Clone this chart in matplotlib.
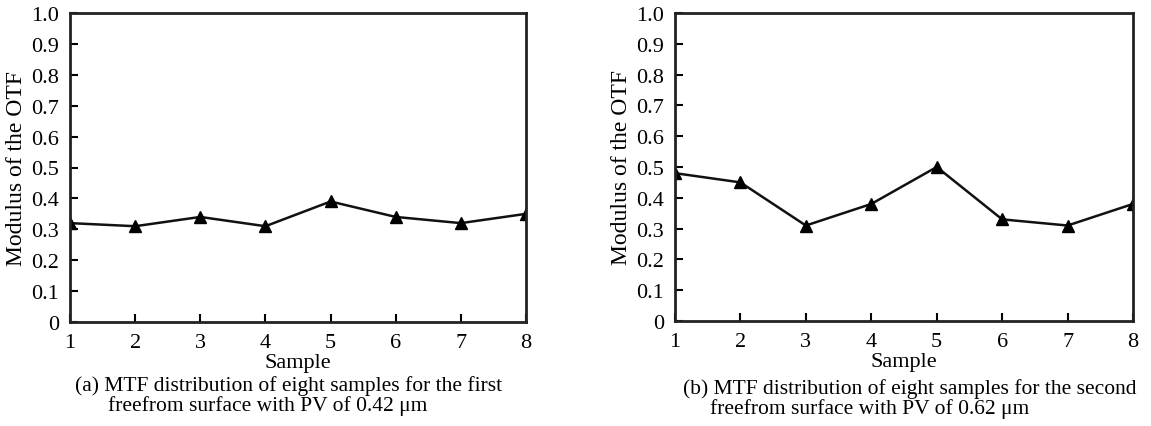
import matplotlib
matplotlib.use("Agg")
import matplotlib.pyplot as plt

samples = [1, 2, 3, 4, 5, 6, 7, 8]
mtf_a = [0.32, 0.31, 0.34, 0.31, 0.39, 0.34, 0.32, 0.35]
mtf_b = [0.48, 0.45, 0.31, 0.38, 0.50, 0.33, 0.31, 0.38]
yticks = [0, 0.1, 0.2, 0.3, 0.4, 0.5, 0.6, 0.7, 0.8, 0.9, 1.0]
ytick_labels = ["0", "0.1", "0.2", "0.3", "0.4", "0.5", "0.6", "0.7", "0.8", "0.9", "1.0"]
caption_a = ["(a) MTF distribution of eight samples for the first",
             "freefrom surface with PV of 0.42 \u03bcm"]
caption_b = ["(b) MTF distribution of eight samples for the second",
             "freefrom surface with PV of 0.62 \u03bcm"]

plt.rcParams['font.family'] = ['Liberation Serif', 'DejaVu Serif']

W, H = 1151, 427
fig = plt.figure(figsize=(W / 100, H / 100), dpi=100)

def px_axes(x0, y0, x1, y1):
    return fig.add_axes([x0 / W, 1 - y1 / H, (x1 - x0) / W, (y1 - y0) / H])

ax_a = px_axes(70, 14, 526, 323)
ax_b = px_axes(675, 14, 1133, 322)

for ax, data in ((ax_a, mtf_a), (ax_b, mtf_b)):
    ax.plot(samples, data, color='#111111', lw=1.8, marker='^', ms=8.5,
            markerfacecolor='black', markeredgecolor='black')
    ax.set_xlim(1, 8)
    ax.set_ylim(0, 1.0)
    ax.set_xticks(samples)
    ax.set_xticklabels([str(s) for s in samples])
    ax.set_yticks(yticks)
    ax.set_yticklabels(ytick_labels)
    ax.tick_params(direction='in', length=6, width=1.5, labelsize=16,
                   top=False, right=False)
    ax.tick_params(axis='y', pad=8)
    ax.tick_params(axis='x', pad=8)
    for sp in ax.spines.values():
        sp.set_linewidth(2.0)
        sp.set_color('#222222')
    ax.set_xlabel("Sample", fontsize=16, labelpad=1)
    ax.set_ylabel("Modulus of the OTF", fontsize=17, labelpad=3)

fig.text(75 / W, 1 - 386 / H, caption_a[0], fontsize=15.5, va='center', ha='left')
fig.text(108 / W, 1 - 406 / H, caption_a[1], fontsize=15.5, va='center', ha='left')
fig.text(683 / W, 1 - 389 / H, caption_b[0], fontsize=15.5, va='center', ha='left')
fig.text(710 / W, 1 - 409 / H, caption_b[1], fontsize=15.5, va='center', ha='left')

fig.savefig("out.png", dpi=100)
